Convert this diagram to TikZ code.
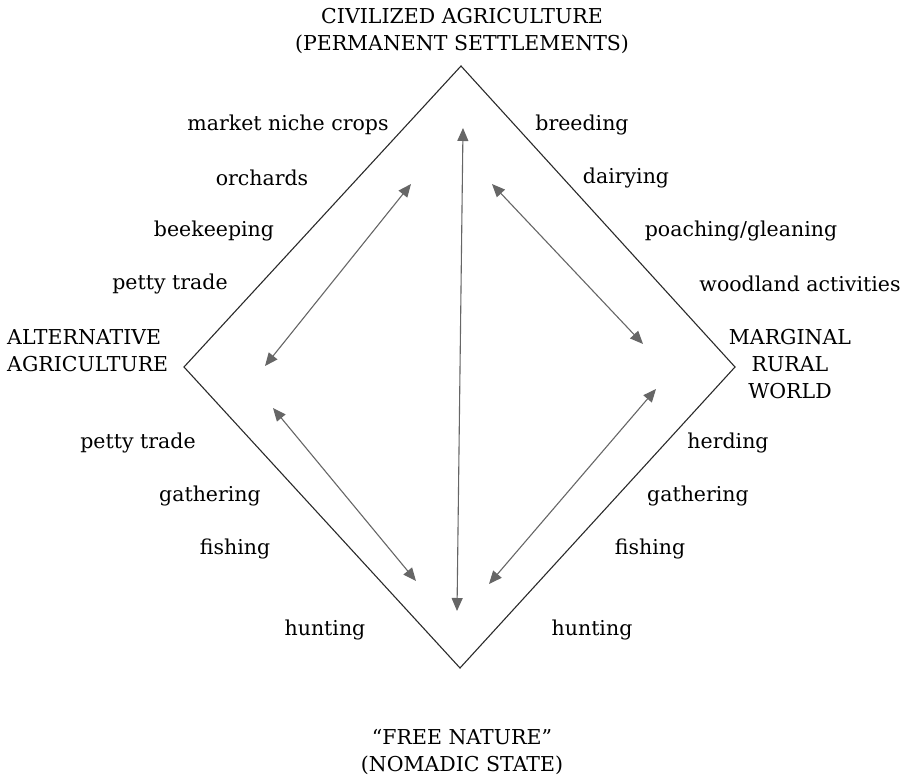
\documentclass[tikz,border=0pt]{standalone}
\usepackage{fontspec}
\setmainfont{DejaVu Serif}
\usetikzlibrary{arrows.meta}
\definecolor{edge}{HTML}{2A2A2A}
\definecolor{arr}{HTML}{666666}
\tikzset{
  lbl/.style={inner sep=0pt, font=\fontsize{20.5pt}{27pt}\selectfont, text=black},
  corner/.style={lbl, align=center},
  twoway/.style={draw=arr, line width=1.1pt, {Triangle[length=13pt,width=11pt]}-{Triangle[length=13pt,width=11pt]}},
  frame/.style={draw=edge, line width=1.1pt, line join=miter}
}
\begin{document}
\begin{tikzpicture}[x=1pt,y=-1pt]
\useasboundingbox (0,0) rectangle (904,775);
% diamond corners
\coordinate (T) at (461,66);
\coordinate (L) at (184,367);
\coordinate (R) at (735,367);
\coordinate (B) at (460,668);
\draw[frame] (T) -- (R) -- (B) -- (L) -- cycle;
% arrow ends
\coordinate (vt) at (463,128);
\coordinate (vb) at (457,611);
\coordinate (ult) at (411,184);
\coordinate (ulb) at (265,366);
\coordinate (urt) at (492,184);
\coordinate (urb) at (643,344);
\coordinate (llt) at (273,408);
\coordinate (llb) at (416,581);
\coordinate (lrt) at (656,389);
\coordinate (lrb) at (489,584);
\draw[twoway] (vb) -- (vt);
\draw[twoway] (ulb) -- (ult);
\draw[twoway] (urt) -- (urb);
\draw[twoway] (llt) -- (llb);
\draw[twoway] (lrt) -- (lrb);
% corner titles
\node[corner] (top) at (462,31) {CIVILIZED AGRICULTURE\\(PERMANENT SETTLEMENTS)};
\node[corner, align=left, anchor=west] (left) at (7,351) {ALTERNATIVE\\AGRICULTURE};
\node[corner] (right) at (790,364) {MARGINAL\\RURAL\\WORLD};
\node[corner] (bottom) at (462,752) {“FREE NATURE”\\(NOMADIC STATE)};
% upper left
\node[lbl] (a1) at (288,125) {market niche crops};
\node[lbl] (a2) at (262,178) {orchards};
\node[lbl] (a3) at (214,231) {beekeeping};
\node[lbl] (a4) at (170,284) {petty trade};
% upper right
\node[lbl] (b1) at (582,125) {breeding};
\node[lbl] (b2) at (626,178) {dairying};
\node[lbl] (b3) at (741,231) {poaching/gleaning};
\node[lbl] (b4) at (800,284) {woodland activities};
% lower left
\node[lbl] (c1) at (138,443) {petty trade};
\node[lbl] (c2) at (210,496) {gathering};
\node[lbl] (c3) at (235,549) {fishing};
\node[lbl] (c4) at (325,630) {hunting};
% lower right
\node[lbl] (d1) at (728,443) {herding};
\node[lbl] (d2) at (698,496) {gathering};
\node[lbl] (d3) at (650,549) {fishing};
\node[lbl] (d4) at (592,630) {hunting};
\end{tikzpicture}
\end{document}
